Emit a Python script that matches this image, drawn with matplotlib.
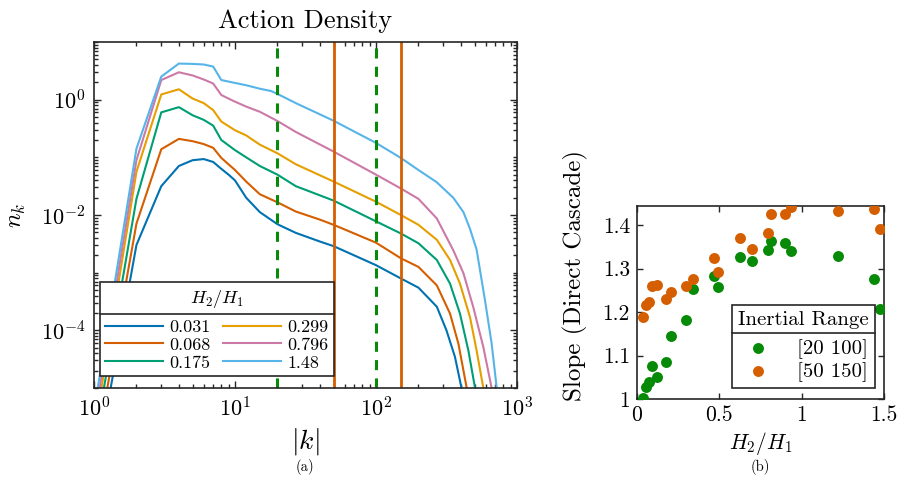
import numpy as np
import matplotlib
matplotlib.use("Agg")
import matplotlib.pyplot as plt
from matplotlib.lines import Line2D
from matplotlib.ticker import LogLocator, FixedLocator, NullFormatter

plt.rcParams['font.family'] = 'serif'
plt.rcParams['font.serif'] = ['cmr10', 'DejaVu Serif']
plt.rcParams['mathtext.fontset'] = 'cm'
plt.rcParams['axes.unicode_minus'] = False
plt.rcParams['axes.formatter.use_mathtext'] = True

# ---------------- data: action density spectra (log10 n_k) ----------------
ratios = ["0.031", "0.068", "0.175", "0.299", "0.796", "1.48"]
colors = ["#0072B2", "#D55E00", "#009E73", "#E69F00", "#CC79A7", "#56B4E9"]

k_031 = [1, 2, 3, 4, 5, 6, 7, 8, 9, 10, 12, 15, 20, 27, 40, 50, 70, 100, 150, 200, 270, 316, 363, 404, 430]
logn_031 = [-6.6, -2.52, -1.50, -1.15, -1.05, -1.03, -1.08, -1.20, -1.30, -1.40, -1.70, -1.95, -2.16, -2.31, -2.46,
            -2.54, -2.70, -2.87, -3.10, -3.26, -3.59, -4.0, -4.46, -5.0, -5.6]

k_068 = [1, 2, 3, 4, 5, 6, 7, 8, 10, 12, 15, 20, 27, 40, 50, 70, 100, 150, 200, 270, 335, 384, 440, 470]
logn_068 = [-6.3, -2.15, -0.86, -0.68, -0.72, -0.77, -0.835, -1.01, -1.22, -1.42, -1.64, -1.78, -1.94, -2.08,
            -2.17, -2.32, -2.48, -2.75, -2.90, -3.22, -3.71, -4.23, -5.0, -5.6]

k_175 = [1, 2, 3, 4, 5, 6, 7, 8, 10, 12, 15, 20, 27, 50, 100, 150, 200, 270, 335, 394, 452, 504, 540]
logn_175 = [-6.0, -1.72, -0.22, -0.13, -0.27, -0.35, -0.45, -0.70, -0.875, -1.00, -1.15, -1.30, -1.50, -1.75,
            -2.11, -2.32, -2.49, -2.78, -3.19, -3.71, -4.35, -5.0, -5.6]

k_299 = [1, 2, 3, 4, 5, 6, 7, 8, 10, 12, 15, 20, 27, 50, 100, 150, 200, 270, 335, 394, 464, 517, 577, 620]
logn_299 = [-5.8, -1.25, 0.09, 0.18, 0.02, -0.06, -0.18, -0.38, -0.53, -0.62, -0.78, -0.93, -1.12, -1.42,
            -1.77, -2.0, -2.17, -2.43, -2.78, -3.19, -3.77, -4.35, -5.0, -5.6]

k_796 = [1, 2, 3, 4, 5, 6, 7, 8, 10, 12, 15, 20, 27, 50, 100, 150, 200, 270, 353, 417, 490, 577, 661, 700]
logn_796 = [-5.6, -1.05, 0.34, 0.475, 0.42, 0.35, 0.28, 0.08, -0.035, -0.12, -0.21, -0.37, -0.56, -0.90,
            -1.30, -1.54, -1.72, -2.06, -2.61, -3.01, -3.6, -4.29, -5.0, -5.6]

k_148 = [1, 2, 3, 4, 5, 6, 7, 8, 10, 12, 15, 18, 20, 27, 50, 100, 150, 200, 269, 353, 417, 464, 517, 593,
         661, 718, 760]
logn_148 = [-5.4, -0.85, 0.40, 0.626, 0.62, 0.61, 0.574, 0.34, 0.29, 0.25, 0.19, 0.15, 0.10, -0.06, -0.365,
            -0.75, -1.01, -1.22, -1.43, -1.70, -1.95, -2.24, -2.60, -3.48, -4.23, -5.0, -5.6]

green_range = [20, 100]
orange_range = [50, 150]

# ---------------- data: slopes ----------------
h_ratio = [0.036, 0.055, 0.071, 0.091, 0.121, 0.178, 0.208, 0.299, 0.34, 0.466, 0.493, 0.624, 0.697,
           0.793, 0.811, 0.898, 0.935, 1.222, 1.439, 1.476]
slope_20_100 = [1.002, 1.027, 1.040, 1.077, 1.050, 1.086, 1.145, 1.182, 1.252, 1.284, 1.257, 1.327, 1.317,
                1.343, 1.364, 1.359, 1.341, 1.330, 1.275, 1.206]
slope_50_150 = [1.188, 1.216, 1.224, 1.260, 1.262, 1.229, 1.247, 1.260, 1.275, 1.325, 1.293, 1.371, 1.344,
                1.381, 1.425, 1.425, 1.442, 1.433, 1.436, 1.392]

W, H = 899, 491
fig = plt.figure(figsize=(W / 100, H / 100), dpi=100)
ax1 = fig.add_axes([94 / W, (H - 388) / H, 423 / W, 346 / H])
ax2 = fig.add_axes([637 / W, (H - 399) / H, 247 / W, 193 / H])

spine_c = '#262626'
series = [(k_031, logn_031), (k_068, logn_068), (k_175, logn_175),
          (k_299, logn_299), (k_796, logn_796), (k_148, logn_148)]
handles = []
for (kk, ln), c, lab in zip(series, colors, ratios):
    h, = ax1.plot(kk, 10.0 ** np.array(ln), color=c, lw=1.5, label=lab)
    handles.append(h)
for xv in green_range:
    ax1.axvline(xv, color='#078A07', lw=2.2, ls=(0, (3.3, 2.7)))
for xv in orange_range:
    ax1.axvline(xv, color='#D55E00', lw=2.0)

ax1.set_xscale('log')
ax1.set_yscale('log')
ax1.set_xlim(1, 1000)
ax1.set_ylim(1e-5, 10)
ax1.yaxis.set_major_locator(FixedLocator([1e-4, 1e-2, 1e0]))
ax1.yaxis.set_minor_locator(LogLocator(base=10, subs=np.arange(1, 10), numticks=30))
ax1.yaxis.set_minor_formatter(NullFormatter())
ax1.xaxis.set_minor_locator(LogLocator(base=10, subs=np.arange(2, 10), numticks=30))
ax1.tick_params(which='both', direction='in', top=True, right=True, color=spine_c, width=1.0)
ax1.tick_params(which='major', length=5, labelsize=16, pad=6)
ax1.tick_params(which='minor', length=3)
for s in ax1.spines.values():
    s.set_color(spine_c)
    s.set_linewidth(1.2)
ax1.set_title('Action Density', fontsize=19, pad=10)
ax1.set_xlabel(r'$|k|$', fontsize=20, labelpad=4)
ax1.set_ylabel(r'$n_k$', fontsize=17.5)
ax1.yaxis.set_label_coords(-0.155, 0.5)

leg1 = ax1.legend(handles, ratios, ncol=2, loc='lower left', bbox_to_anchor=(0.0142, 0.0347),
                  title=r'$H_2/H_1$', title_fontsize=13, fontsize=13, frameon=True, fancybox=False,
                  edgecolor=spine_c, framealpha=1, handlelength=3.2, handletextpad=0.35,
                  columnspacing=0.7, labelspacing=0.12, borderpad=0.3, borderaxespad=0)
leg1.get_frame().set_linewidth(1.2)
leg1._legend_box.sep = 7

# right panel
ax2.scatter(h_ratio, slope_20_100, s=62, color='#078A07', label='[20 100]', zorder=3, linewidths=0)
ax2.scatter(h_ratio, slope_50_150, s=62, color='#D55E00', label='[50 150]', zorder=3, linewidths=0)
ax2.set_xlim(0, 1.5)
ax2.set_ylim(1.0, 1.444)
ax2.set_xticks([0, 0.5, 1, 1.5])
ax2.set_xticklabels(['0', '0.5', '1', '1.5'])
ax2.set_yticks([1.0, 1.1, 1.2, 1.3, 1.4])
ax2.set_yticklabels(['1', '1.1', '1.2', '1.3', '1.4'])
ax2.tick_params(which='both', direction='in', top=True, right=True, color=spine_c, width=1.0,
                length=4, labelsize=15.5, pad=5)
for s in ax2.spines.values():
    s.set_color(spine_c)
    s.set_linewidth(1.2)
ax2.set_xlabel(r'$H_2/H_1$', fontsize=15.5, labelpad=3)
ax2.set_ylabel('Slope (Direct Cascade)', fontsize=18)
ax2.yaxis.set_label_coords(-0.198, 0.64)
leg2 = ax2.legend(loc='lower right', bbox_to_anchor=(0.965, 0.057), title='Inertial Range',
                  title_fontsize=15, fontsize=15, frameon=True, fancybox=False, edgecolor=spine_c,
                  framealpha=1, handlelength=1.8, handletextpad=1.0, labelspacing=0.15,
                  borderpad=0.3, borderaxespad=0, markerscale=1.0)
leg2.get_frame().set_linewidth(1.2)
leg2._legend_box.sep = 7

fig.text(305 / W, 1 - 467 / H, '(a)', ha='center', va='center', fontsize=10.5)
fig.text(760 / W, 1 - 467 / H, '(b)', ha='center', va='center', fontsize=10.5)

# separator lines under legend titles
fig.canvas.draw()
r = fig.canvas.get_renderer()
for leg in (leg1, leg2):
    lb = leg.get_window_extent(r)
    tb = leg.get_title().get_window_extent(r)
    yv = tb.y0 - 4
    fig.add_artist(Line2D([lb.x0 / W, lb.x1 / W], [yv / H, yv / H], color=spine_c, lw=1.2,
                          transform=fig.transFigure))

fig.savefig('out.png', dpi=100)
